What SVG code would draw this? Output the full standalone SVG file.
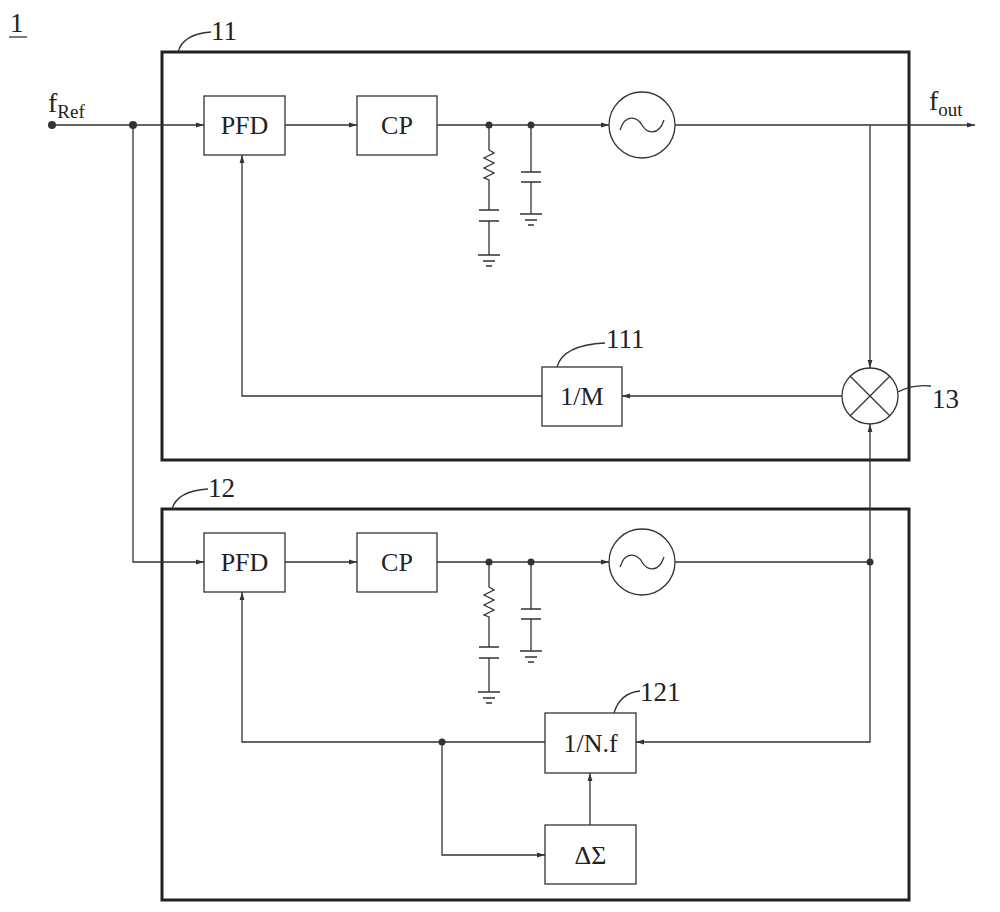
<svg xmlns="http://www.w3.org/2000/svg" width="1000" height="912" viewBox="0 0 1000 912">
<defs>
<style>
.w{stroke:#333;stroke-width:1.3;fill:none}
.b{stroke:#333;stroke-width:1.3;fill:#fff}
.frame{stroke:#222;stroke-width:3;fill:none}
.t{font-family:"Liberation Serif",serif;fill:#222}
.d{fill:#333}
</style>
<marker id="a" viewBox="0 0 10 10" refX="10" refY="5" markerWidth="14" markerHeight="8" markerUnits="userSpaceOnUse" orient="auto"><path d="M0,2L10,5L0,8z" fill="#333"/></marker>
<g id="filt">
<circle cx="489" cy="125" r="3.5" class="d"/><circle cx="531" cy="125" r="3.5" class="d"/>
<path class="w" d="M489,125V150l5,3l-10,5l10,5l-10,5l10,5l-10,5l5,2V210M479,210h20M479,221h20M489,221V255M478,255h22M483,261h12M486,266h6"/>
<path class="w" d="M531,125V172M521,172h20M521,182h20M531,182V214M520,214h22M525,220h12M528,225h6"/>
</g>
</defs>
<rect width="1000" height="912" fill="#fff"/>
<text class="t" x="10" y="32" font-size="27">1</text><path class="w" d="M9,37h18"/>
<g id="box11"><rect class="frame" x="162" y="52" width="747" height="408"/><text class="t" x="211" y="40" font-size="27">11</text><path class="w" d="M178,52q5,-18 33,-20"/></g>
<g id="box12"><rect class="frame" x="162" y="509" width="747" height="391"/><text class="t" x="208" y="497" font-size="27">12</text><path class="w" d="M172,509q5,-18 36,-20"/></g>
<g id="pfd1"><rect class="b" x="204" y="96" width="81" height="59"/><text class="t" x="244.5" y="134" font-size="26" text-anchor="middle">PFD</text></g>
<g id="cp1"><rect class="b" x="357" y="96" width="80" height="59"/><text class="t" x="397" y="134" font-size="26" text-anchor="middle">CP</text></g>
<g id="vco1"><circle class="b" cx="642" cy="125" r="33"/><path class="w" d="M620,130c6,-18 18,-12 22,-5s16,13 22,-5"/></g>
<g id="mix13"><circle class="b" cx="870" cy="396" r="28"/><path class="w" d="M850,376l40,40M890,376l-40,40"/><text class="t" x="932" y="408" font-size="27">13</text><path class="w" d="M898,392q15,-8 33,-6"/></g>
<g id="div111"><rect class="b" x="542" y="367" width="80" height="59"/><text class="t" x="582" y="405" font-size="26" text-anchor="middle">1/M</text><text class="t" x="606" y="348" font-size="27">111</text><path class="w" d="M557,367q6,-22 48,-24"/></g>
<g id="pfd2"><rect class="b" x="204" y="533" width="81" height="59"/><text class="t" x="244.5" y="571" font-size="26" text-anchor="middle">PFD</text></g>
<g id="cp2"><rect class="b" x="357" y="533" width="80" height="59"/><text class="t" x="397" y="571" font-size="26" text-anchor="middle">CP</text></g>
<g id="vco2"><circle class="b" cx="642" cy="562" r="33"/><path class="w" d="M620,567c6,-18 18,-12 22,-5s16,13 22,-5"/></g>
<g id="div121"><rect class="b" x="545" y="713" width="91" height="60"/><text class="t" x="590.5" y="752" font-size="26" text-anchor="middle">1/N.f</text><text class="t" x="640" y="701" font-size="27">121</text><path class="w" d="M614,713q6,-20 26,-22"/></g>
<g id="ds"><rect class="b" x="545" y="825" width="91" height="59"/><text class="t" x="590.5" y="864" font-size="26" text-anchor="middle">ΔΣ</text></g>
<g id="connectors">
<text class="t" x="48" y="112" font-size="28">f<tspan font-size="19" dy="6">Ref</tspan></text>
<circle cx="52" cy="125" r="4" class="d"/><circle cx="133" cy="125" r="4" class="d"/>
<path class="w" d="M52,125H204" marker-end="url(#a)"/>
<path class="w" d="M285,125H357" marker-end="url(#a)"/>
<path class="w" d="M437,125H609" marker-end="url(#a)"/>
<use href="#filt"/>
<path class="w" d="M675,125H975" marker-end="url(#a)"/>
<text class="t" x="929" y="110" font-size="28">f<tspan font-size="19" dy="6">out</tspan></text>
<path class="w" d="M870,125V368" marker-end="url(#a)"/>
<path class="w" d="M842,396H622" marker-end="url(#a)"/>
<path class="w" d="M542,396H242V155" marker-end="url(#a)"/>
<path class="w" d="M133,125V562H204" marker-end="url(#a)"/>
<path class="w" d="M285,562H357" marker-end="url(#a)"/>
<path class="w" d="M437,562H609" marker-end="url(#a)"/>
<use href="#filt" transform="translate(0,437)"/>
<path class="w" d="M675,562H870"/>
<circle cx="870" cy="562" r="3.5" class="d"/>
<path class="w" d="M870,562V424" marker-end="url(#a)"/>
<path class="w" d="M870,562V742H636" marker-end="url(#a)"/>
<path class="w" d="M545,742H242V592" marker-end="url(#a)"/>
<circle cx="442" cy="742" r="3.5" class="d"/>
<path class="w" d="M442,742V855H545" marker-end="url(#a)"/>
<path class="w" d="M590,825V773" marker-end="url(#a)"/>
</g>
</svg>
